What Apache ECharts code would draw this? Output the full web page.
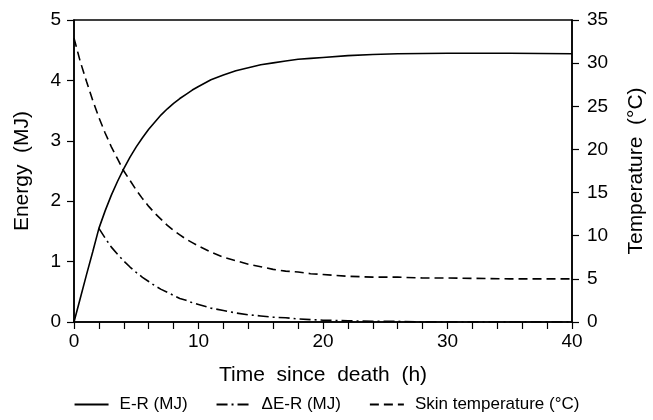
<!DOCTYPE html>
<html>
<head>
<meta charset="utf-8">
<script src="https://cdn.jsdelivr.net/npm/echarts@6/dist/echarts.min.js"></script>
<style>
  html, body { margin: 0; padding: 0; background: #fff; }
  #chart { width: 653px; height: 420px; }
</style>
</head>
<body>
<div id="chart"></div>
<script>
// hours since death
var hours = [0, 0.5, 1, 1.5, 2, 2.5, 3, 3.5, 4, 4.5, 5, 5.5, 6, 6.5, 7, 7.5, 8, 8.5, 9, 9.5, 10,
  11, 12, 13, 14, 15, 16, 17, 18, 19, 20, 22, 24, 26, 28, 30, 35, 40];

// E-R (MJ), left axis
var energyR = [0, 0.39, 0.78, 1.16, 1.55, 1.84, 2.10, 2.33, 2.54, 2.73, 2.90, 3.05, 3.19, 3.31, 3.43, 3.53, 3.62, 3.70, 3.77, 3.84, 3.90,
  4.01, 4.09, 4.16, 4.21, 4.26, 4.29, 4.32, 4.35, 4.365, 4.38, 4.41, 4.43, 4.44, 4.445, 4.45, 4.45, 4.44];

// delta E-R (MJ), left axis, starts at 2 h
var deltaER = [null, null, null, null, 1.55, 1.39, 1.24, 1.12, 1.01, 0.91, 0.82, 0.74, 0.67, 0.60, 0.54, 0.49, 0.44, 0.39, 0.36, 0.32, 0.29,
  0.23, 0.19, 0.15, 0.12, 0.10, 0.08, 0.07, 0.05, 0.04, 0.03, 0.02, 0.01, 0.01, 0, 0, 0, 0];

// skin temperature (°C), right axis
var skinTemp = [32.9, 30.2, 27.9, 25.7, 23.7, 21.9, 20.3, 18.9, 17.5, 16.4, 15.3, 14.3, 13.4, 12.6, 11.9, 11.2, 10.6, 10.1, 9.6, 9.2, 8.8,
  8.1, 7.5, 7.1, 6.7, 6.4, 6.1, 5.9, 5.8, 5.6, 5.5, 5.3, 5.2, 5.2, 5.1, 5.1, 5.0, 5.0];

function pairs(vals) {
  var out = [];
  for (var i = 0; i < hours.length; i++) {
    if (vals[i] !== null) out.push([hours[i], vals[i]]);
  }
  return out;
}

var font = 'Liberation Sans, Arial, sans-serif';
var black = '#000';

var chart = echarts.init(document.getElementById('chart'), null, { renderer: 'canvas' });

var axisCommon = {
  axisLine: { show: true, lineStyle: { color: black, width: 1.5 } },
  axisTick: { show: true, inside: false, length: 7, lineStyle: { color: black, width: 1.2 } },
  splitLine: { show: false },
  nameLocation: 'middle',
  nameTextStyle: { color: black, fontSize: 21, fontFamily: font },
  axisLabel: { color: black, fontSize: 19, fontFamily: font }
};

var option = {
  backgroundColor: '#fff',
  animation: false,
  grid: {
    left: 74, right: 81, top: 20, bottom: 98,
    outerBoundsMode: 'none',
    containLabel: false,
    show: true, borderColor: black, borderWidth: 1.5, backgroundColor: 'transparent'
  },
  legend: {
    bottom: 2,
    left: 'center',
    itemWidth: 34,
    itemHeight: 14,
    itemGap: 28,
    itemStyle: { opacity: 0 },
    textStyle: { color: black, fontSize: 17, fontFamily: font, padding: [0, 0, 0, 6] },
    data: ['E-R (MJ)', 'ΔE-R (MJ)', 'Skin temperature (°C)']
  },
  xAxis: Object.assign({}, axisCommon, {
    type: 'value',
    min: 0, max: 40, interval: 2,
    name: 'Time  since  death  (h)',
    nameGap: 43,
    axisLabel: Object.assign({}, axisCommon.axisLabel, {
      margin: 10,
      formatter: function (v) { return v % 10 === 0 ? String(v) : ''; }
    })
  }),
  yAxis: [
    Object.assign({}, axisCommon, {
      type: 'value',
      min: 0, max: 5, interval: 1,
      name: 'Energy  (MJ)',
      nameGap: 41,
      axisLabel: Object.assign({}, axisCommon.axisLabel, { margin: 13 })
    }),
    Object.assign({}, axisCommon, {
      type: 'value',
      position: 'right',
      min: 0, max: 35, interval: 5,
      name: 'Temperature  (°C)',
      nameGap: 54,
      axisLabel: Object.assign({}, axisCommon.axisLabel, { margin: 15 })
    })
  ],
  series: [
    {
      name: 'E-R (MJ)',
      type: 'line',
      yAxisIndex: 0,
      symbol: 'none',
      lineStyle: { color: black, width: 1.6, type: 'solid' },
      itemStyle: { color: black },
      data: pairs(energyR)
    },
    {
      name: 'ΔE-R (MJ)',
      type: 'line',
      yAxisIndex: 0,
      symbol: 'none',
      lineStyle: { color: black, width: 1.6, type: [11, 4, 2, 4] },
      itemStyle: { color: black },
      data: pairs(deltaER)
    },
    {
      name: 'Skin temperature (°C)',
      type: 'line',
      yAxisIndex: 1,
      symbol: 'none',
      lineStyle: { color: black, width: 1.6, type: [9, 5] },
      itemStyle: { color: black },
      data: pairs(skinTemp)
    }
  ]
};

chart.setOption(option);
</script>
</body>
</html>
